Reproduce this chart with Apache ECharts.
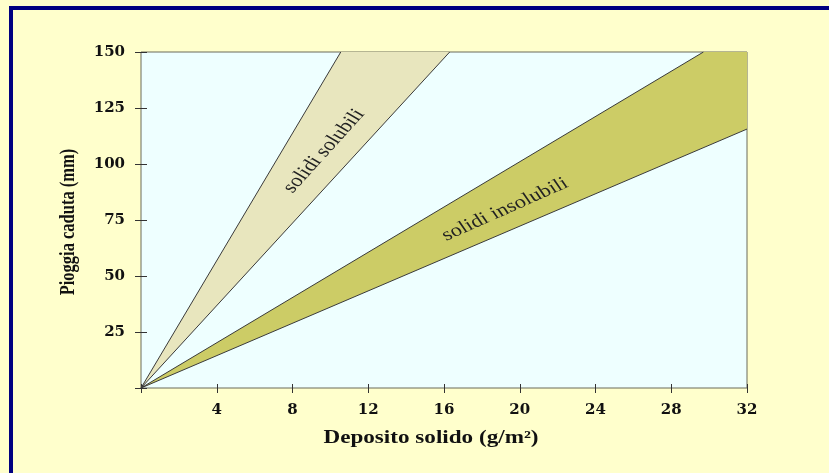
<!DOCTYPE html>
<html>
<head>
<meta charset="utf-8">
<script src="https://cdn.jsdelivr.net/npm/echarts@6/dist/echarts.min.js"></script>
<style>
html,body{margin:0;padding:0;background:#FFFFCC;}
#chart{width:829px;height:473px;}
</style>
</head>
<body>
<div id="chart"></div>
<script>
// Axis ticks
const xTicks = [0, 4, 8, 12, 16, 20, 24, 28, 32];
const yTicks = [0, 25, 50, 75, 100, 125, 150];
// Boundary lines (Deposito solido g/m², Pioggia caduta mm)
const solubiliSteep = [[0, 0], [10.55, 150]];
const solubiliShallow = [[0, 0], [16.3, 150]];
const insolubiliSteep = [[0, 0], [29.7, 150]];
const insolubiliShallow = [[0, 0], [32, 115.6]];
// Band labels
const bandNames = ['solidi solubili', 'solidi insolubili'];
const bandLabelPos = [[9.66, 105.8], [19.22, 79.7]];
const bandLabelAngle = [54, 29];
const xTitle = 'Deposito solido (g/m²)';
const yTitle = 'Pioggia caduta (mm)';

const xMin = xTicks[0], xMax = xTicks[xTicks.length - 1];
const yMin = yTicks[0], yMax = yTicks[yTicks.length - 1];

const solubiliPoly = solubiliSteep.concat(solubiliShallow.slice().reverse());
const insolubiliPoly = insolubiliSteep.concat([[xMax, yMax]], insolubiliShallow.slice().reverse());

function polySeries(poly, fill) {
  return {
    type: 'custom',
    data: poly,
    silent: true,
    z: 1,
    renderItem: function (params, api) {
      if (params.dataIndex !== 0) return;
      const pts = poly.map(p => api.coord(p));
      return { type: 'polygon', shape: { points: pts }, style: { fill: fill, stroke: null } };
    }
  };
}
function lineSeries(d) {
  return {
    type: 'line', data: d, symbol: 'none', silent: true, z: 3,
    lineStyle: { color: '#3a3a3a', width: 1 }
  };
}

const chart = echarts.init(document.getElementById('chart'));
const tickFont = { fontFamily: 'DejaVu Serif', fontWeight: 'bold', fontSize: 15, color: '#111' };
chart.setOption({
  backgroundColor: '#FFFFCC',
  animation: false,
  grid: { left: 141, top: 52, width: 606, height: 336, show: true,
          backgroundColor: '#EEFFFF', borderColor: '#6a6a5a', borderWidth: 1 },
  xAxis: {
    type: 'value', min: xMin, max: xMax, interval: xTicks[1] - xTicks[0],
    offset: -4,
    axisLine: { show: false },
    axisTick: { show: true, length: 9, lineStyle: { color: '#333', width: 1 } },
    splitLine: { show: false },
    axisLabel: Object.assign({ margin: 19, formatter: v => v === 0 ? '' : String(v) }, tickFont)
  },
  yAxis: {
    type: 'value', min: yMin, max: yMax, interval: yTicks[1] - yTicks[0],
    offset: -6,
    axisLine: { show: false },
    axisTick: { show: true, length: 12, lineStyle: { color: '#333', width: 1 } },
    splitLine: { show: false },
    axisLabel: Object.assign({ margin: 22, formatter: v => v === 0 ? '' : String(v) }, tickFont)
  },
  series: [
    polySeries(solubiliPoly, '#E8E6BE'),
    polySeries(insolubiliPoly, '#CCCC66'),
    lineSeries(solubiliSteep),
    lineSeries(solubiliShallow),
    lineSeries(insolubiliSteep),
    lineSeries(insolubiliShallow)
  ]
});

function stretchedText(x, y, text, font, rotDeg, color) {
  return {
    type: 'group', x: x, y: y, scaleX: 1.25, z: 100,
    children: [{
      type: 'text', z: 100, rotation: rotDeg * Math.PI / 180,
      style: { text: text, font: font, fill: color, align: 'center', verticalAlign: 'middle' }
    }]
  };
}

const graphics = [
  { type: 'rect', z: 100, silent: true,
    shape: { x: 11, y: 8, width: 900, height: 600 },
    style: { fill: null, stroke: '#000080', lineWidth: 4 } },
  stretchedText(431, 438, xTitle, 'bold 18.5px "Liberation Serif"', 0, '#111'),
  stretchedText(69, 222, yTitle, 'bold 16.5px "Liberation Serif"', 90, '#111')
];
bandNames.forEach((name, i) => {
  const p = chart.convertToPixel({ gridIndex: 0 }, bandLabelPos[i]);
  graphics.push(stretchedText(p[0], p[1], name, '18px "Liberation Serif"', bandLabelAngle[i], '#222'));
});
chart.setOption({ graphic: graphics });
</script>
</body>
</html>
